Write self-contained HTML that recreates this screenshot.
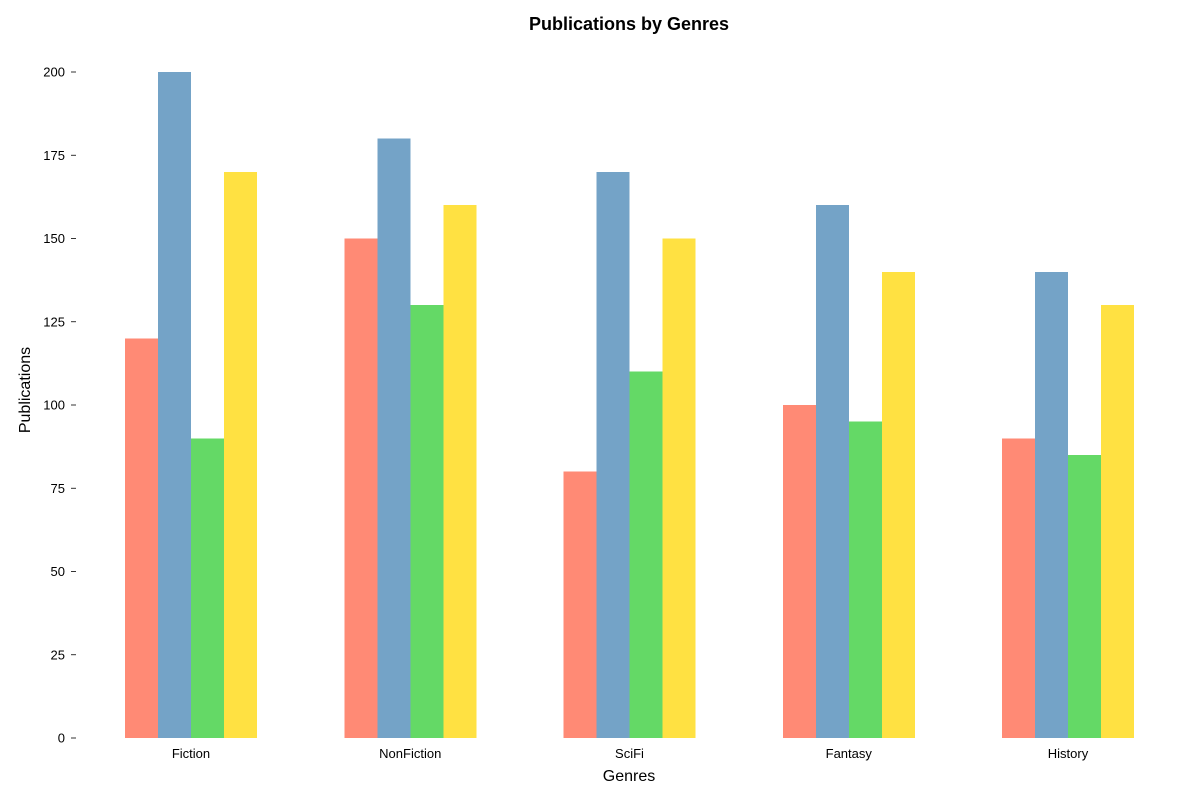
<!DOCTYPE html>
<html><head><meta charset="utf-8"><style>
body{margin:0;background:#fff;}
svg{display:block;font-family:"Liberation Sans","DejaVu Sans",sans-serif;}
</style></head><body>
<svg id="chart" width="1200" height="800">
<text x="629" y="30" text-anchor="middle" font-size="18" font-weight="bold">Publications by Genres</text>
<text x="629" y="781" text-anchor="middle" font-size="16">Genres</text>
<text transform="translate(30,390) rotate(-90)" text-anchor="middle" font-size="16">Publications</text>
<g id="yaxis"></g>
<g id="xaxis"></g>
<g id="bars" shape-rendering="crispEdges"></g>
</svg>
<script>
const categories = ["Fiction","NonFiction","SciFi","Fantasy","History"];
const series1 = [120,150,80,100,90];
const series2 = [200,180,170,160,140];
const series3 = [90,130,110,95,85];
const series4 = [170,160,150,140,130];
const yTicks = [0,25,50,75,100,125,150,175,200];
const allSeries = [series1,series2,series3,series4];
const colors = ["#FF8A75","#74A3C7","#64D966","#FFE142"];
const NS = "http://www.w3.org/2000/svg";
const y0 = 738, y200 = 72;
function yScale(v){ return y0 - (v/200)*(y0-y200); }
function xCenter(i){ return 191 + i*219.25; }
const barW = 33;
const yaxis = document.getElementById('yaxis');
yTicks.forEach(t=>{
  const y = yScale(t);
  const l = document.createElementNS(NS,'line');
  l.setAttribute('x1',71); l.setAttribute('x2',76); l.setAttribute('y1',y); l.setAttribute('y2',y);
  l.setAttribute('stroke','#000'); l.setAttribute('stroke-width','0.8');
  
  
  yaxis.appendChild(l);
  const tx = document.createElementNS(NS,'text');
  tx.setAttribute('x',65); tx.setAttribute('y',y+4.5); tx.setAttribute('text-anchor','end'); tx.setAttribute('font-size','13');
  tx.textContent = t;
  
  
  yaxis.appendChild(tx);
});
const xaxis = document.getElementById('xaxis');
const barsG = document.getElementById('bars');
categories.forEach((c,i)=>{
  const cx = xCenter(i);
  const tx = document.createElementNS(NS,'text');
  tx.setAttribute('x',cx); tx.setAttribute('y',758); tx.setAttribute('text-anchor','middle'); tx.setAttribute('font-size','13');
  tx.textContent = c;
  
  
  xaxis.appendChild(tx);
  allSeries.forEach((s,j)=>{
    const x = cx - 2*barW + j*barW;
    const r = document.createElementNS(NS,'rect');
    r.setAttribute('x',x); r.setAttribute('width',barW);
    r.setAttribute('y',yScale(s[i])); r.setAttribute('height',y0-yScale(s[i]));
    r.setAttribute('fill',colors[j]);
    
    
    barsG.appendChild(r);
  });
});
</script>
</body></html>
